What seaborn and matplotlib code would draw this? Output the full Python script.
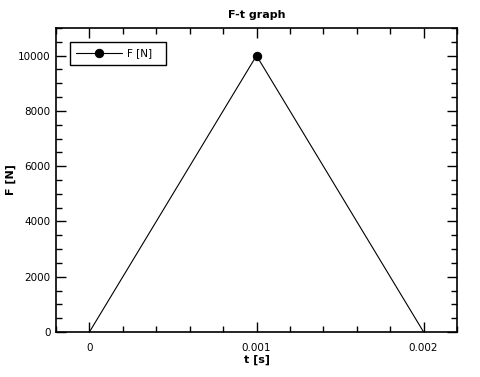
import matplotlib
matplotlib.use("Agg")
import matplotlib.pyplot as plt
import seaborn as sns
import pandas as pd
from matplotlib.ticker import MultipleLocator, FuncFormatter

t_values = [0.0, 0.001, 0.002]
f_values = [0, 10000, 0]
series_name = "F [N]"

sns.set_style("ticks")
plt.rcParams['font.family'] = ['DejaVu Sans']
plt.rcParams['text.color'] = 'black'
plt.rcParams['axes.labelcolor'] = 'black'

df = pd.DataFrame({"t": t_values, "F": f_values, "series": series_name})

fig = plt.figure(figsize=(4.8, 3.77), dpi=100)
ax = fig.add_axes([0.1167, 0.1194, 0.8354, 0.8063])
sns.lineplot(data=df, x="t", y="F", hue="series", palette=["black"], ax=ax,
             marker="o", markevery=[1], markersize=6, linewidth=0.8,
             markeredgecolor="black")

ax.set_xlim(-0.0002, 0.0022)
ax.set_ylim(0, 11000)
ax.xaxis.set_major_locator(MultipleLocator(0.001))
ax.xaxis.set_minor_locator(MultipleLocator(0.0002))
ax.yaxis.set_major_locator(MultipleLocator(2000))
ax.yaxis.set_minor_locator(MultipleLocator(500))
ax.xaxis.set_major_formatter(FuncFormatter(lambda v, p: "0" if abs(v) < 1e-12 else f"{v:g}"))
ax.yaxis.set_major_formatter(FuncFormatter(lambda v, p: f"{v:.0f}"))
ax.tick_params(which="both", direction="in", top=True, right=True, labelsize=7.5, colors="black")
ax.tick_params(which="major", length=7, width=1)
ax.tick_params(which="minor", length=4, width=1)
ax.tick_params(axis="x", which="major", pad=8)
ax.tick_params(axis="y", which="major", pad=4)
for s in ax.spines.values():
    s.set_linewidth(1.2)
    s.set_color("black")

ax.set_title("F-t graph", fontsize=8, fontweight="bold", pad=7, color="black")
ax.set_xlabel("t [s]", fontsize=8, fontweight="bold", labelpad=1)
ax.set_ylabel("F [N]", fontsize=8, fontweight="bold")
ax.yaxis.set_label_coords(-0.1, 0.5)

leg = ax.legend(loc="upper left", fontsize=7.5, frameon=True, fancybox=False,
                edgecolor="black", framealpha=1, borderaxespad=1.3, handlelength=4.4,
                handletextpad=0.5, borderpad=0.65)
leg.get_frame().set_linewidth(1.0)
for txt in leg.get_texts():
    txt.set_text(series_name + "  ")

fig.savefig("out.png", dpi=100)
